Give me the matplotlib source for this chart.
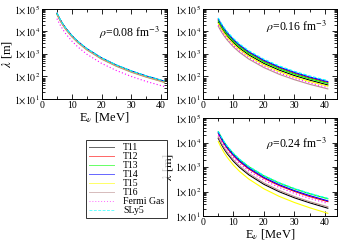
import math

import matplotlib
matplotlib.use("Agg")
import matplotlib.pyplot as plt
from matplotlib.ticker import FuncFormatter, LogLocator, MultipleLocator

plt.rcParams["font.family"] = ["Liberation Serif", "DejaVu Serif"]
plt.rcParams["mathtext.fontset"] = "stix"

# neutrino energy grid [MeV]
energy = [5, 6, 7, 8, 10, 12, 15, 20, 25, 30, 35, 41]

series = ["T11", "T12", "T13", "T14", "T15", "T16", "Fermi Gas", "SLy5"]

# mean free path lambda [m], rho = 0.08 fm^-3
lam_008 = {
    "T11": [6.1e4, 3.34e4, 2.01e4, 1.29e4, 6.2e3, 3.39e3, 1.63e3, 629, 301, 165, 99, 59],
    "T12": [6.2e4, 3.4e4, 2.04e4, 1.31e4, 6.3e3, 3.45e3, 1.65e3, 639, 306, 168, 101, 60],
    "T13": [6.3e4, 3.45e4, 2.08e4, 1.34e4, 6.4e3, 3.51e3, 1.68e3, 650, 311, 170, 102, 61],
    "T14": [6.45e4, 3.53e4, 2.13e4, 1.37e4, 6.55e3, 3.59e3, 1.72e3, 665, 318, 174, 105, 62],
    "T15": [5.85e4, 3.21e4, 1.93e4, 1.24e4, 5.94e3, 3.26e3, 1.56e3, 603, 289, 158, 95, 56],
    "T16": [5.7e4, 3.12e4, 1.88e4, 1.21e4, 5.8e3, 3.17e3, 1.52e3, 588, 281, 154, 93, 55],
    "Fermi Gas": [3.7e4, 2.03e4, 1.22e4, 7.8e3, 3.76e3, 2.06e3, 987, 381, 183, 100, 60, 36],
    "SLy5": [6.6e4, 3.62e4, 2.17e4, 1.40e4, 6.7e3, 3.67e3, 1.76e3, 680, 326, 178, 107, 64],
}

# rho = 0.16 fm^-3
lam_016 = {
    "T11": [2.6e4, 1.49e4, 9.3e3, 6.2e3, 3.14e3, 1.80e3, 912, 379, 192, 110, 69, 42],
    "T12": [3.3e4, 1.89e4, 1.18e4, 7.9e3, 3.99e3, 2.29e3, 1.16e3, 481, 244, 140, 87, 54],
    "T13": [3.0e4, 1.72e4, 1.08e4, 7.2e3, 3.62e3, 2.08e3, 1.05e3, 437, 221, 127, 79, 49],
    "T14": [3.6e4, 2.06e4, 1.29e4, 8.6e3, 4.35e3, 2.49e3, 1.26e3, 525, 266, 153, 95, 59],
    "T15": [2.25e4, 1.29e4, 8.1e3, 5.4e3, 2.72e3, 1.56e3, 790, 328, 166, 95, 60, 37],
    "T16": [1.7e4, 9.7e3, 6.1e3, 4.06e3, 2.05e3, 1.18e3, 596, 248, 125, 72, 45, 28],
    "Fermi Gas": [1.95e4, 1.12e4, 7.0e3, 4.65e3, 2.36e3, 1.35e3, 684, 284, 144, 83, 52, 32],
    "SLy5": [4.0e4, 2.29e4, 1.43e4, 9.5e3, 4.83e3, 2.77e3, 1.40e3, 583, 295, 169, 106, 65],
}

# rho = 0.24 fm^-3
lam_024 = {
    "T11": [1.5e4, 8.5e3, 5.25e3, 3.46e3, 1.73e3, 977, 487, 198, 99, 56, 35, 21],
    "T12": [2.4e4, 1.38e4, 8.6e3, 5.7e3, 2.9e3, 1.66e3, 842, 350, 177, 102, 63, 39],
    "T13": [2.8e4, 1.62e4, 1.02e4, 6.8e3, 3.5e3, 2.03e3, 1.04e3, 438, 224, 130, 82, 51],
    "T14": [2.6e4, 1.49e4, 9.3e3, 6.2e3, 3.14e3, 1.80e3, 912, 379, 192, 110, 69, 42],
    "T15": [1.1e4, 6.1e3, 3.75e3, 2.44e3, 1.2e3, 668, 327, 130, 64, 36, 22, 13],
    "T16": [1.7e4, 9.6e3, 5.95e3, 3.92e3, 1.96e3, 1.11e3, 552, 225, 112, 63, 39, 24],
    "Fermi Gas": [2.0e4, 1.15e4, 7.2e3, 4.8e3, 2.42e3, 1.39e3, 702, 292, 148, 85, 53, 33],
    "SLy5": [2.9e4, 1.68e4, 1.06e4, 7.1e3, 3.63e3, 2.10e3, 1.07e3, 453, 232, 134, 85, 53],
}

colors = {
    "T11": "#000000", "T12": "#ff0000", "T13": "#00ff00", "T14": "#0000ff",
    "T15": "#ffff00", "T16": "#bc8f8f", "Fermi Gas": "#ff00ff", "SLy5": "#00ffff",
}
styles = {"Fermi Gas": (0, (1, 2)), "SLy5": (0, (3, 1.5))}


def decade_fmt(v, pos):
    return r"$1{\times}10^{%d}$" % round(math.log10(v))


def setup(ax, xmax, label):
    ax.set_yscale("log")
    ax.set_ylim(10, 1e5)
    ax.set_xlim(0, xmax)
    ax.xaxis.set_major_locator(MultipleLocator(10))
    ax.xaxis.set_minor_locator(MultipleLocator(5))
    ax.yaxis.set_major_locator(LogLocator(base=10, numticks=10))
    ax.yaxis.set_minor_locator(LogLocator(base=10, subs=range(2, 10), numticks=20))
    ax.yaxis.set_major_formatter(FuncFormatter(decade_fmt))
    ax.tick_params(which="both", direction="in", top=True, right=True,
                   labelsize=7, pad=1.5, width=0.6)
    ax.tick_params(which="major", length=3.5)
    ax.tick_params(which="minor", length=2)
    for s in ax.spines.values():
        s.set_linewidth(0.7)
    ax.set_ylabel(r"$\lambda$ [m]", fontsize=9, labelpad=0)
    ax.set_xlabel(r"E$_\nu$ [MeV]", fontsize=9, labelpad=0)
    ax.text(0.70, label[1], label[0], transform=ax.transAxes,
            ha="center", va="center", fontsize=8.5)


fig = plt.figure(figsize=(3.39, 2.42), dpi=100)
ax1 = fig.add_axes([0.124, 0.591, 0.369, 0.372])
ax2 = fig.add_axes([0.599, 0.591, 0.395, 0.372])
ax3 = fig.add_axes([0.599, 0.107, 0.395, 0.405])

panels = [
    (ax1, lam_008, 42, (r"$\rho$=0.08 fm$^{-3}$", 0.74)),
    (ax2, lam_016, 44, (r"$\rho$=0.16 fm$^{-3}$", 0.80)),
    (ax3, lam_024, 44, (r"$\rho$=0.24 fm$^{-3}$", 0.74)),
]
for ax, data, xmax, label in panels:
    for name in series:
        ax.plot(energy, data[name], color=colors[name], lw=0.8,
                linestyle=styles.get(name, "-"), label=name)
    setup(ax, xmax, label)

ax2.set_ylabel("")
ax2.set_xlabel("")

handles, labels = ax1.get_legend_handles_labels()
leg = fig.legend(handles, labels, loc="upper left", bbox_to_anchor=(0.254, 0.421),
                 prop={"family": "Liberation Serif", "size": 7},
                 frameon=True, fancybox=False, edgecolor="black",
                 handlelength=2.6, labelspacing=0.0, borderpad=0.3,
                 handletextpad=0.9, borderaxespad=0)
leg.get_frame().set_linewidth(0.7)
for line in leg.get_lines():
    line.set_linewidth(0.7)
    line.set_alpha(0.6)

fig.savefig("out.png", dpi=100)
